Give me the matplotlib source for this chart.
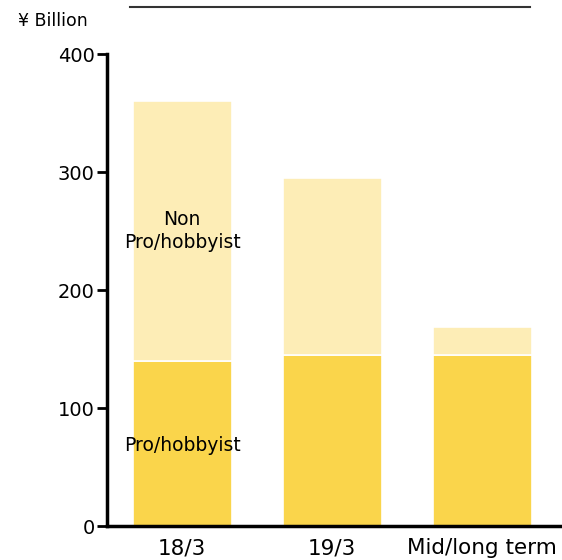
import matplotlib.pyplot as plt
from matplotlib.lines import Line2D

categories = ["18/3", "19/3", "Mid/long term"]
pro_hobbyist = [140, 145, 145]
non_pro = [220, 150, 24]
yticks = [0, 100, 200, 300, 400]

fig = plt.figure(figsize=(5.62, 5.6), dpi=100)
ax = fig.add_axes([107 / 562, 34 / 560, 455 / 562, 472 / 560])

x = range(len(categories))
ax.bar(x, pro_hobbyist, width=0.66, color="#FAD54B", edgecolor="white", linewidth=1.2)
ax.bar(x, non_pro, width=0.66, bottom=pro_hobbyist, color="#FDEDB6",
       edgecolor="white", linewidth=1.2)

ax.set_xlim(-0.5, 2.533)
ax.set_ylim(0, 400)
ax.set_yticks(yticks)
ax.set_xticks(list(x))
ax.set_xticklabels(categories, fontsize=15.5)
ax.tick_params(axis="y", direction="out", length=7, width=2, labelsize=14, pad=2)
ax.tick_params(axis="x", length=0, pad=9)

for side in ["top", "right"]:
    ax.spines[side].set_visible(False)
ax.spines["left"].set_linewidth(2.5)
ax.spines["bottom"].set_linewidth(2.5)

ax.text(0, 68, "Pro/hobbyist", ha="center", va="center", fontsize=13.5)
ax.text(0, 250, "Non\nPro/hobbyist", ha="center", va="center", fontsize=13.5,
        linespacing=1.25)

fig.text(18 / 562, 1 - 21 / 560, "¥ Billion", ha="left", va="center", fontsize=12.5)
fig.add_artist(Line2D([130 / 562, 530 / 562], [1 - 7 / 560, 1 - 7 / 560],
                      color="#333333", linewidth=1.5))

fig.savefig("out.png", dpi=100)
